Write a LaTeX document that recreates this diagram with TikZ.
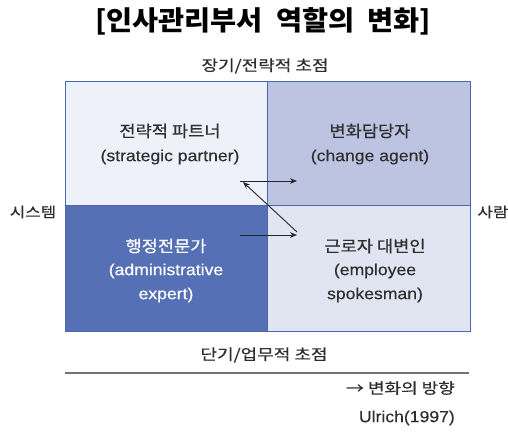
\documentclass[tikz,border=0pt]{standalone}
\usepackage{fontspec}
\setmainfont{Liberation Sans}
\newfontfamily\krt{Noto Sans CJK KR}[FakeStretch=1.05]
\newfontfamily\krq{Noto Sans CJK KR}[FakeStretch=1.1,FakeBold=0.6]
\newfontfamily\kra{Noto Sans CJK KR}[FakeStretch=1.2,FakeBold=0.4]
\newfontfamily\enq{Liberation Sans}[FakeStretch=1.1,FakeBold=0.3]
\usetikzlibrary{arrows.meta}
\definecolor{qtl}{HTML}{EEF1FA}
\definecolor{qtr}{HTML}{BDC4E1}
\definecolor{qbl}{HTML}{5670B5}
\definecolor{qbr}{HTML}{E1E4F1}
\definecolor{edge}{HTML}{4A6AAE}
\definecolor{txt}{HTML}{2E2E2E}
\begin{document}
\begin{tikzpicture}[x=1pt,y=-1pt,
  quad/.style={draw=edge,line width=1pt},
  ktext/.style={font=\krq\fontsize{16}{19}\selectfont,text=txt,inner sep=0pt},
  etext/.style={font=\enq\fontsize{16}{19}\selectfont,text=txt,inner sep=0pt},
  atext/.style={font=\kra\fontsize{15}{18}\selectfont,text=txt,inner sep=0pt},
  arr/.style={draw=black!85,line width=0.9pt,-{Stealth[length=7pt,width=5.5pt]}}]
\useasboundingbox (0,0) rectangle (508,435);
% quadrants
\path[fill=qtl] (65,82) rectangle (267,206);
\path[fill=qtr] (267,82) rectangle (470,206);
\path[fill=qbl] (65,206) rectangle (267,331);
\path[fill=qbr] (267,206) rectangle (470,331);
\draw[quad] (65,82) rectangle (470,331);
\draw[quad] (267,82) -- (267,331);
\draw[quad] (65,206) -- (470,206);
% title and axis labels
\node[font=\krt\bfseries\fontsize{27}{30}\selectfont,inner sep=0pt] (title) at (263,21) {[인사관리부서\ \ 역할의\ \ 변화]};
\node[atext] (top) at (265,66) {장기/전략적 초점};
\node[atext,font=\kra\fontsize{14}{17}\selectfont] (left) at (33,212) {시스템};
\node[atext,font=\kra\fontsize{14}{17}\selectfont] (right) at (493,212) {사람};
\node[atext] (bottom) at (264,355) {단기/업무적 초점};
% quadrant texts
\node[ktext] (sp1) at (170,131) {전략적 파트너};
\node[etext] (sp2) at (170,157) {(strategic partner)};
\node[ktext] (ca1) at (370,131) {변화담당자};
\node[etext] (ca2) at (370,157) {(change agent)};
\node[ktext,text=white] (ae1) at (166,246) {행정전문가};
\node[etext,text=white] (ae2) at (166,271) {(administrative};
\node[etext,text=white] (ae3) at (166,295) {expert)};
\node[ktext] (es1) at (375,246) {근로자 대변인};
\node[etext] (es2) at (375,271) {(employee};
\node[etext] (es3) at (375,295) {spokesman)};
% arrows
\coordinate (a1s) at (240,181);
\coordinate (a1e) at (297,181);
\coordinate (a2s) at (240,235);
\coordinate (a2e) at (297,235);
\coordinate (a3s) at (297,232);
\coordinate (a3e) at (243,182);
\draw[arr] (a1s) -- (a1e);
\draw[arr] (a2s) -- (a2e);
\draw[arr] (a3s) -- (a3e);
% bottom rule and notes
\coordinate (r1) at (65,373);
\coordinate (r2) at (469,373);
\draw[draw=black!55,line width=1.3pt] (r1) -- (r2);
\node[atext,anchor=east] (legend) at (455,388) {→ 변화의 방향};
\node[etext,anchor=east] (src) at (455,418) {Ulrich(1997)};
\end{tikzpicture}
\end{document}
